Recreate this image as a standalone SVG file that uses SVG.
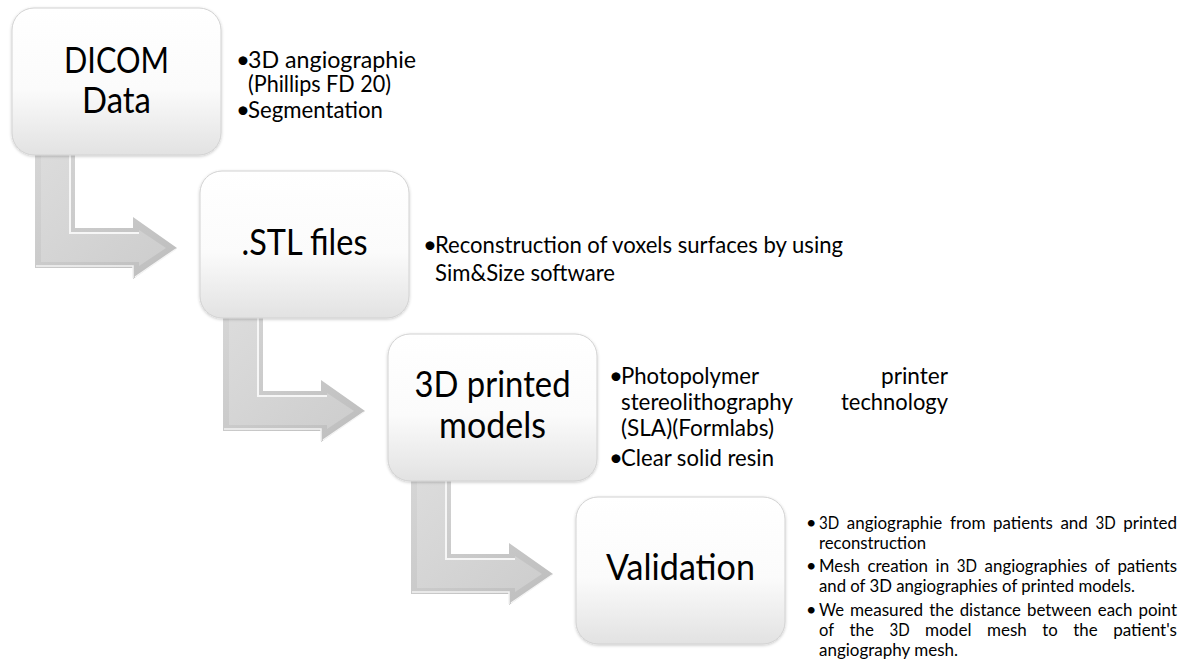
<svg xmlns="http://www.w3.org/2000/svg" xmlns:xlink="http://www.w3.org/1999/xlink" width="1193" height="664" viewBox="0 0 1193 664">
<style>
.t{font-family:Lato,"Open Sans","Liberation Sans",sans-serif;fill:#000}
.title{font-size:36px;text-anchor:middle}
.d{font-size:24px}
.s{font-size:18px}
.box{fill:url(#boxg);stroke:#d2d2d2;stroke-width:1;filter:url(#sh)}
</style>
<defs>
<linearGradient id="boxg" x1="0" y1="0" x2="0" y2="1">
<stop offset="0" stop-color="#ffffff"/>
<stop offset="0.55" stop-color="#fbfbfb"/>
<stop offset="1" stop-color="#e2e2e2"/>
</linearGradient>
<linearGradient id="arg" x1="0" y1="0" x2="1" y2="1">
<stop offset="0" stop-color="#d6d6d6"/>
<stop offset="1" stop-color="#bdbdbd"/>
</linearGradient>
<linearGradient id="arin" x1="0" y1="0" x2="1" y2="1">
<stop offset="0" stop-color="#dcdcdc"/>
<stop offset="1" stop-color="#cdcdcd"/>
</linearGradient>
<filter id="sh" x="-10%" y="-10%" width="120%" height="120%">
<feDropShadow dx="0" dy="1" stdDeviation="1.5" flood-color="#000" flood-opacity="0.22"/>
</filter>
<g id="arrow">
<path d="M35,150 H75 V228 H133 V217 L177,248 L133,279 V268 H35 Z" fill="url(#arg)"/>
<path d="M41,150 H69 V234 H139 V230 L166,248 L139,266 V262 H41 Z" fill="url(#arin)"/>
<path d="M70,150 V233 H139" fill="none" stroke="#f6f6f6" stroke-width="2"/>
<path d="M36,266 H133 V278 M135,277 L176,249" fill="none" stroke="#f4f4f4" stroke-width="1.5"/>
</g>
</defs>
<rect width="1193" height="664" fill="#ffffff"/>

<g id="connectors">
<use xlink:href="#arrow" href="#arrow"/>
<use xlink:href="#arrow" href="#arrow" transform="translate(188,163)"/>
<use xlink:href="#arrow" href="#arrow" transform="translate(376,326)"/>
</g>

<g id="node-dicom">
<rect class="box" x="12" y="8" width="209" height="147" rx="22"/>
<text class="t title" x="116.5" y="73" textLength="105" lengthAdjust="spacingAndGlyphs">DICOM</text>
<text class="t title" x="116.5" y="113" textLength="69" lengthAdjust="spacingAndGlyphs">Data</text>
</g>
<g id="desc-dicom">
<text class="t d" x="236" y="68">•</text>
<text class="t d" x="248" y="68" textLength="168" lengthAdjust="spacingAndGlyphs">3D angiographie</text>
<text class="t d" x="248" y="92" textLength="143" lengthAdjust="spacingAndGlyphs">(Phillips FD 20)</text>
<text class="t d" x="236" y="118">•</text>
<text class="t d" x="248" y="118" textLength="135" lengthAdjust="spacingAndGlyphs">Segmentation</text>
</g>

<g id="node-stl">
<rect class="box" x="200" y="171" width="209" height="147" rx="22"/>
<text class="t title" x="304.5" y="255" textLength="126" lengthAdjust="spacingAndGlyphs">.STL files</text>
</g>
<g id="desc-stl">
<text class="t d" x="423" y="253">•</text>
<text class="t d" x="435" y="253" textLength="408" lengthAdjust="spacingAndGlyphs">Reconstruction of voxels surfaces by using</text>
<text class="t d" x="435" y="281" textLength="180" lengthAdjust="spacingAndGlyphs">Sim&amp;Size software</text>
</g>

<g id="node-printed">
<rect class="box" x="388" y="334" width="209" height="147" rx="22"/>
<text class="t title" x="492.5" y="397" textLength="156" lengthAdjust="spacingAndGlyphs">3D printed</text>
<text class="t title" x="492.5" y="438" textLength="107" lengthAdjust="spacingAndGlyphs">models</text>
</g>
<g id="desc-printed">
<text class="t d" x="609" y="384">•</text>
<text class="t d" x="621" y="384" textLength="138" lengthAdjust="spacingAndGlyphs">Photopolymer</text>
<text class="t d" x="881" y="384" textLength="67" lengthAdjust="spacingAndGlyphs">printer</text>
<text class="t d" x="621" y="410" textLength="172" lengthAdjust="spacingAndGlyphs">stereolithography</text>
<text class="t d" x="841" y="410" textLength="107" lengthAdjust="spacingAndGlyphs">technology</text>
<text class="t d" x="621" y="436" textLength="153" lengthAdjust="spacingAndGlyphs">(SLA)(Formlabs)</text>
<text class="t d" x="609" y="466">•</text>
<text class="t d" x="621" y="466" textLength="153" lengthAdjust="spacingAndGlyphs">Clear solid resin</text>
</g>

<g id="node-validation">
<rect class="box" x="576" y="497" width="209" height="147" rx="22"/>
<text class="t title" x="680.5" y="580" textLength="149" lengthAdjust="spacingAndGlyphs">Validation</text>
</g>
<g id="desc-validation">
<text class="t s" x="806" y="529">•</text>
<text class="t s" y="529"><tspan x="819" textLength="20.2" lengthAdjust="spacingAndGlyphs">3D</tspan><tspan x="846.8" textLength="95.5" lengthAdjust="spacingAndGlyphs">angiographie</tspan><tspan x="949.9" textLength="35.6" lengthAdjust="spacingAndGlyphs">from</tspan><tspan x="993.1" textLength="59.7" lengthAdjust="spacingAndGlyphs">patients</tspan><tspan x="1060.4" textLength="27.5" lengthAdjust="spacingAndGlyphs">and</tspan><tspan x="1095.5" textLength="20.2" lengthAdjust="spacingAndGlyphs">3D</tspan><tspan x="1123.3" textLength="53.7" lengthAdjust="spacingAndGlyphs">printed</tspan></text>
<text class="t s" x="819" y="549" textLength="107" lengthAdjust="spacingAndGlyphs">reconstruction</text>
<text class="t s" x="806" y="572">•</text>
<text class="t s" y="572"><tspan x="819" textLength="40.8" lengthAdjust="spacingAndGlyphs">Mesh</tspan><tspan x="867.4" textLength="60.6" lengthAdjust="spacingAndGlyphs">creation</tspan><tspan x="935.6" textLength="13.6" lengthAdjust="spacingAndGlyphs">in</tspan><tspan x="956.8" textLength="20.2" lengthAdjust="spacingAndGlyphs">3D</tspan><tspan x="984.6" textLength="102.6" lengthAdjust="spacingAndGlyphs">angiographies</tspan><tspan x="1094.8" textLength="15" lengthAdjust="spacingAndGlyphs">of</tspan><tspan x="1117.4" textLength="59.7" lengthAdjust="spacingAndGlyphs">patients</tspan></text>
<text class="t s" x="819" y="592" textLength="316" lengthAdjust="spacingAndGlyphs">and of 3D angiographies of printed models.</text>
<text class="t s" x="806" y="616">•</text>
<text class="t s" y="616"><tspan x="819" textLength="25" lengthAdjust="spacingAndGlyphs">We</tspan><tspan x="850" textLength="73.2" lengthAdjust="spacingAndGlyphs">measured</tspan><tspan x="929.2" textLength="24.4" lengthAdjust="spacingAndGlyphs">the</tspan><tspan x="959.7" textLength="61.3" lengthAdjust="spacingAndGlyphs">distance</tspan><tspan x="1027" textLength="64.7" lengthAdjust="spacingAndGlyphs">between</tspan><tspan x="1097.8" textLength="34.7" lengthAdjust="spacingAndGlyphs">each</tspan><tspan x="1138.5" textLength="38.5" lengthAdjust="spacingAndGlyphs">point</tspan></text>
<text class="t s" y="636"><tspan x="819" textLength="15" lengthAdjust="spacingAndGlyphs">of</tspan><tspan x="849.5" textLength="24.4" lengthAdjust="spacingAndGlyphs">the</tspan><tspan x="889.4" textLength="20.2" lengthAdjust="spacingAndGlyphs">3D</tspan><tspan x="925.1" textLength="46.4" lengthAdjust="spacingAndGlyphs">model</tspan><tspan x="987" textLength="39.8" lengthAdjust="spacingAndGlyphs">mesh</tspan><tspan x="1042.3" textLength="15.5" lengthAdjust="spacingAndGlyphs">to</tspan><tspan x="1073.3" textLength="24.4" lengthAdjust="spacingAndGlyphs">the</tspan><tspan x="1113.2" textLength="63.7" lengthAdjust="spacingAndGlyphs">patient's</tspan></text>
<text class="t s" x="819" y="656" textLength="139" lengthAdjust="spacingAndGlyphs">angiography mesh.</text>
</g>
</svg>
